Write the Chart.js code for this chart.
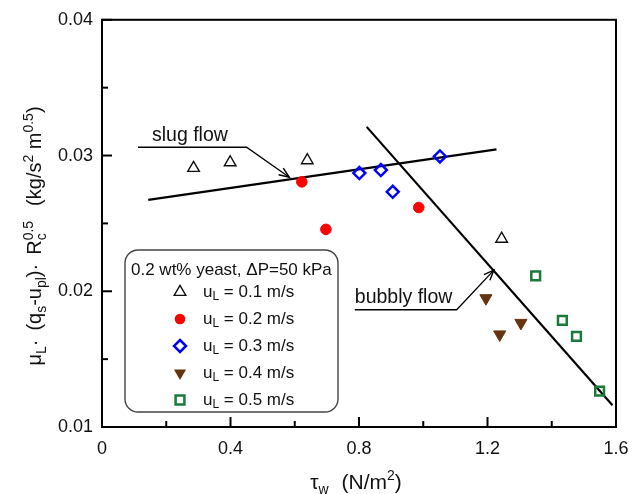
<!DOCTYPE html>
<html><head><meta charset="utf-8">
<script src="https://cdn.jsdelivr.net/npm/chart.js@4"></script>
<style>html,body{margin:0;padding:0;background:#fff}#wrap{width:640px;height:494px}</style>
</head><body><div id="wrap"><canvas id="c" width="640" height="494"></canvas></div>
<script>
// ---- data ----
const seriesLabels = ['0.1', '0.2', '0.3', '0.4', '0.5'];
const tau01 = [0.285, 0.399, 0.639, 1.244];
const val01 = [0.02908, 0.02949, 0.02964, 0.02386];
const tau02 = [0.622, 0.697, 0.986];
const val02 = [0.02806, 0.02456, 0.02617];
const tau03 = [0.801, 0.868, 0.905, 1.052];
const val03 = [0.02871, 0.02893, 0.02733, 0.02993];
const tau04 = [1.195, 1.238, 1.304];
const val04 = [0.01949, 0.01682, 0.01767];
const tau05 = [1.350, 1.433, 1.477, 1.549];
const val05 = [0.02114, 0.01786, 0.01668, 0.01264];
const slugLineX = [0.144, 1.228];
const slugLineY = [0.02673, 0.03046];
const bubblyLineX = [0.824, 1.589];
const bubblyLineY = [0.03211, 0.0116];
const slugLeaderX = [0.112, 0.450, 0.583];
const slugLeaderY = [0.03061, 0.03061, 0.0284];
const bubblyLeaderX = [0.787, 1.104, 1.220];
const bubblyLeaderY = [0.01864, 0.01864, 0.02156];
const xTickLabels = ['0', '0.4', '0.8', '1.2', '1.6'];
const yTickLabels = ['0.01', '0.02', '0.03', '0.04'];
const legendTitle = '0.2 wt% yeast, \u0394P=50 kPa';
const annotationTexts = ['slug flow', 'bubbly flow'];

const pts = (xs, ys) => xs.map((x, i) => ({x: x, y: ys[i]}));
const FONT = '"Liberation Sans", Arial, sans-serif';
const TXT = '#111';

const styles = [
  {pointStyle: 'triangle', rotation: 0, radius: 6.7, color: '#111', fill: false, bw: 1.4},
  {pointStyle: 'circle', rotation: 0, radius: 5.3, color: '#ff0000', fill: true, bw: 1},
  {pointStyle: 'rectRot', rotation: 0, radius: 6, color: '#0000ff', fill: false, bw: 2.5},
  {pointStyle: 'triangle', rotation: 180, radius: 7, color: '#663311', fill: true, bw: 1},
  {pointStyle: 'rect', rotation: 0, radius: 6.2, color: '#1a7a3a', fill: false, bw: 2.5}
];
const seriesData = [pts(tau01, val01), pts(tau02, val02), pts(tau03, val03), pts(tau04, val04), pts(tau05, val05)];

const datasets = seriesData.map((d, i) => ({
  label: 'u_L = ' + seriesLabels[i] + ' m/s',
  data: d,
  showLine: false,
  pointStyle: styles[i].pointStyle,
  rotation: styles[i].rotation,
  pointRadius: styles[i].radius,
  pointHoverRadius: styles[i].radius,
  pointBorderWidth: styles[i].bw,
  pointBorderColor: styles[i].color,
  pointBackgroundColor: styles[i].fill ? styles[i].color : 'rgba(0,0,0,0)'
}));
const lineDs = (d, w) => ({data: d, showLine: true, borderColor: '#000', borderWidth: w, pointRadius: 0, fill: false, tension: 0, order: 10});
datasets.push(lineDs(pts(slugLineX, slugLineY), 2.2));
datasets.push(lineDs(pts(bubblyLineX, bubblyLineY), 2.2));
datasets.push(Object.assign(lineDs(pts(slugLeaderX, slugLeaderY), 1.3), {isLeader: true}));
datasets.push(Object.assign(lineDs(pts(bubblyLeaderX, bubblyLeaderY), 1.3), {isLeader: true}));

// rich text: parts {t, s:'n'|'sub'|'sup', gap, stack}
function rich(ctx, parts, x, y, align, big, small) {
  const fBig = big + 'px ' + FONT, fSmall = small + 'px ' + FONT;
  let w = 0, stackW = 0;
  const laid = [];
  for (const p of parts) {
    ctx.font = p.s === 'n' ? fBig : fSmall;
    const pw = ctx.measureText(p.t).width;
    laid.push({p: p, x: w});
    if (p.stack) { stackW = Math.max(stackW, pw); continue; }
    w += Math.max(stackW, pw) + (p.gap || 0);
    stackW = 0;
  }
  const x0 = align === 'center' ? x - w / 2 : x;
  for (const l of laid) {
    ctx.font = l.p.s === 'n' ? fBig : fSmall;
    const dy = l.p.s === 'sub' ? big * 0.26 : (l.p.s === 'sup' ? -big * 0.42 : 0);
    ctx.fillText(l.p.t, x0 + l.x, y + dy);
  }
  return w;
}

function marker(ctx, st, x, y) {
  ctx.save();
  ctx.lineWidth = st.bw; ctx.strokeStyle = st.color; ctx.fillStyle = st.color;
  ctx.beginPath();
  const r = st.radius;
  if (st.pointStyle === 'circle') { ctx.arc(x, y, r, 0, Math.PI * 2); }
  else if (st.pointStyle === 'triangle') {
    const s = st.rotation ? -1 : 1;
    for (let k = 0; k < 3; k++) {
      const a = k * 2 * Math.PI / 3;
      const px = x + Math.sin(a) * r * s, py = y - Math.cos(a) * r * s;
      k ? ctx.lineTo(px, py) : ctx.moveTo(px, py);
    }
    ctx.closePath();
  } else if (st.pointStyle === 'rectRot') {
    ctx.moveTo(x, y - r); ctx.lineTo(x + r, y); ctx.lineTo(x, y + r); ctx.lineTo(x - r, y); ctx.closePath();
  } else { const h = r * Math.SQRT1_2; ctx.rect(x - h, y - h, 2 * h, 2 * h); }
  if (st.fill) ctx.fill(); else ctx.stroke();
  ctx.restore();
}

const deco = {
  id: 'deco',
  afterDatasetsDraw(chart) {
    const ctx = chart.ctx, a = chart.chartArea, xs = chart.scales.x, ys = chart.scales.y;
    ctx.save();
    // frame
    ctx.strokeStyle = '#000'; ctx.lineWidth = 2;
    ctx.strokeRect(a.left, a.top, a.right - a.left, a.bottom - a.top);
    // inward ticks
    ctx.lineWidth = 2;
    xs.ticks.forEach((t, i) => {
      const px = xs.getPixelForValue(t.value);
      ctx.beginPath(); ctx.moveTo(px, a.bottom); ctx.lineTo(px, a.bottom - 10); ctx.stroke();
      if (i < xs.ticks.length - 1) {
        const mx = xs.getPixelForValue((t.value + xs.ticks[i + 1].value) / 2);
        ctx.beginPath(); ctx.moveTo(mx, a.bottom); ctx.lineTo(mx, a.bottom - 6); ctx.stroke();
      }
    });
    ys.ticks.forEach((t, i) => {
      const py = ys.getPixelForValue(t.value);
      ctx.beginPath(); ctx.moveTo(a.left, py); ctx.lineTo(a.left + 10, py); ctx.stroke();
      if (i < ys.ticks.length - 1) {
        const my = ys.getPixelForValue((t.value + ys.ticks[i + 1].value) / 2);
        ctx.beginPath(); ctx.moveTo(a.left, my); ctx.lineTo(a.left + 6, my); ctx.stroke();
      }
    });
    // arrowheads on leader lines
    chart.data.datasets.forEach(ds => {
      if (!ds.isLeader) return;
      const n = ds.data.length;
      const p1 = ds.data[n - 2], p2 = ds.data[n - 1];
      const x1 = xs.getPixelForValue(p1.x), y1 = ys.getPixelForValue(p1.y);
      const x2 = xs.getPixelForValue(p2.x), y2 = ys.getPixelForValue(p2.y);
      const ang = Math.atan2(y2 - y1, x2 - x1);
      ctx.lineWidth = 1.4; ctx.strokeStyle = '#000';
      ctx.beginPath();
      ctx.moveTo(x2 - 11 * Math.cos(ang - 0.38), y2 - 11 * Math.sin(ang - 0.38));
      ctx.lineTo(x2, y2);
      ctx.lineTo(x2 - 11 * Math.cos(ang + 0.38), y2 - 11 * Math.sin(ang + 0.38));
      ctx.stroke();
    });
    // annotation texts
    ctx.fillStyle = TXT; ctx.font = '19.5px ' + FONT; ctx.textBaseline = 'alphabetic'; ctx.textAlign = 'left';
    ctx.fillText(annotationTexts[0], xs.getPixelForValue(slugLeaderX[0]) + 14, ys.getPixelForValue(slugLeaderY[0]) - 6);
    ctx.fillText(annotationTexts[1], xs.getPixelForValue(bubblyLeaderX[0]), ys.getPixelForValue(bubblyLeaderY[0]) - 7);

    // legend box
    const lx = 125, ly = 250, lw = 213, lh = 162, rr = 13;
    ctx.beginPath();
    ctx.moveTo(lx + rr, ly); ctx.lineTo(lx + lw - rr, ly); ctx.arcTo(lx + lw, ly, lx + lw, ly + rr, rr);
    ctx.lineTo(lx + lw, ly + lh - rr); ctx.arcTo(lx + lw, ly + lh, lx + lw - rr, ly + lh, rr);
    ctx.lineTo(lx + rr, ly + lh); ctx.arcTo(lx, ly + lh, lx, ly + lh - rr, rr);
    ctx.lineTo(lx, ly + rr); ctx.arcTo(lx, ly, lx + rr, ly, rr); ctx.closePath();
    ctx.fillStyle = '#fff'; ctx.fill();
    ctx.strokeStyle = '#444'; ctx.lineWidth = 1.4; ctx.stroke();
    ctx.fillStyle = TXT; ctx.font = '17px ' + FONT; ctx.textBaseline = 'middle';
    ctx.fillText(legendTitle, 131, 270);
    const rows = [292, 319, 346, 373, 400];
    seriesLabels.forEach((s, i) => {
      marker(ctx, styles[i], 180, rows[i]);
      ctx.fillStyle = TXT;
      rich(ctx, [{t: 'u', s: 'n'}, {t: 'L', s: 'sub'}, {t: ' = ' + s + ' m/s', s: 'n'}], 203, rows[i], 'left', 17, 12);
    });

    // axis titles
    ctx.textBaseline = 'alphabetic'; ctx.fillStyle = TXT;
    rich(ctx, [{t: '\u03c4', s: 'n'}, {t: 'w', s: 'sub', gap: 13}, {t: '(N/m', s: 'n'}, {t: '2', s: 'sup'}, {t: ')', s: 'n'}], 356, 489, 'center', 21, 14);
    ctx.save();
    ctx.translate(41, 236); ctx.rotate(-Math.PI / 2);
    rich(ctx, [
      {t: '\u03bc', s: 'n'}, {t: 'L', s: 'sub'}, {t: '\u00b7', s: 'n', gap: 9}, {t: '(q', s: 'n'}, {t: 's', s: 'sub'},
      {t: '-u', s: 'n'}, {t: 'pl', s: 'sub'}, {t: ')\u00b7', s: 'n', gap: 9}, {t: 'R', s: 'n'}, {t: 'c', s: 'sub', stack: true},
      {t: '0.5', s: 'sup', gap: 15}, {t: '(kg/s', s: 'n'}, {t: '2', s: 'sup'}, {t: ' m', s: 'n'},
      {t: '0.5', s: 'sup'}, {t: ')', s: 'n'}
    ], 0, 0, 'center', 20, 14);
    ctx.restore();
    ctx.restore();
  }
};

new Chart(document.getElementById('c'), {
  type: 'scatter',
  data: {datasets: datasets},
  options: {
    responsive: false, animation: false, devicePixelRatio: 1,
    layout: {padding: {top: 15, right: 24, left: 0, bottom: 0}},
    plugins: {legend: {display: false}, tooltip: {enabled: false}},
    scales: {
      x: {
        type: 'linear', min: 0, max: 1.6,
        afterFit: s => { s.height = 67; },
        afterBuildTicks: s => { s.ticks = xTickLabels.map(v => ({value: parseFloat(v)})); },
        grid: {display: false, drawTicks: false},
        border: {display: false},
        ticks: {padding: 11, color: TXT, font: {family: FONT, size: 18},
          callback: (v, i) => xTickLabels[i]}
      },
      y: {
        type: 'linear', min: 0.01, max: 0.04,
        afterFit: s => { s.width = 102; },
        afterBuildTicks: s => { s.ticks = yTickLabels.map(v => ({value: parseFloat(v)})); },
        grid: {display: false, drawTicks: false},
        border: {display: false},
        ticks: {padding: 9, color: TXT, font: {family: FONT, size: 18},
          callback: (v, i) => yTickLabels[i]}
      }
    }
  },
  plugins: [deco]
});
</script></body></html>
